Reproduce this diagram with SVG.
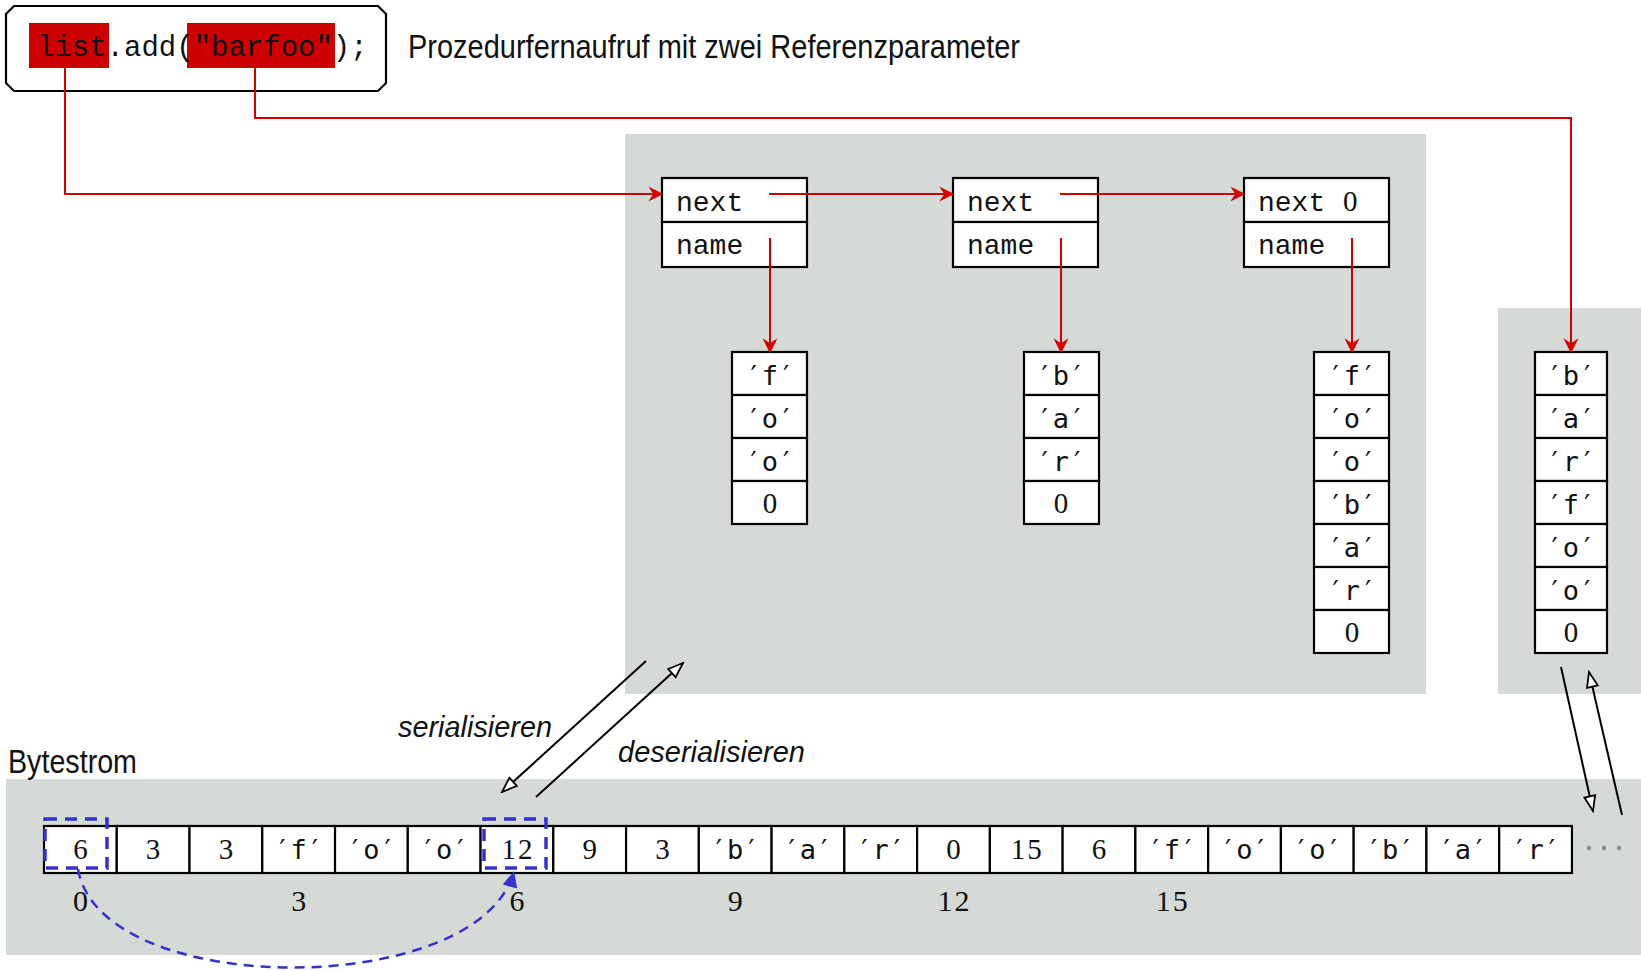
<svg xmlns="http://www.w3.org/2000/svg" width="1641" height="971" viewBox="0 0 1641 971">
  <style>
    .panel { fill: #d6dad6; }
    .cell { fill: #ffffff; stroke: #000000; stroke-width: 2.2; }
    .mono { font-family: "Liberation Mono", "DejaVu Sans Mono", monospace; font-size: 28px; fill: #111111; }
    .chr { font-family: "DejaVu Sans Mono", "Liberation Mono", monospace; font-size: 27px; fill: #111111; }
    .num { font-family: "Liberation Serif", "Times New Roman", serif; font-size: 29px; letter-spacing: 2px; fill: #111111; }
    .mid { text-anchor: middle; }
    .sans { font-family: "Liberation Sans", Arial, sans-serif; fill: #111111; }
    .ital { font-style: italic; }
    .ref { fill: none; stroke: #d40000; stroke-width: 2; marker-end: url(#redHead); }
    .flow { fill: none; stroke: #000000; stroke-width: 2; marker-end: url(#openHead); }
    .hl { fill: #cc0000; }
    .mark { fill: none; stroke: #3333cc; stroke-width: 3.5; stroke-dasharray: 12 8; }
  </style>
  <defs>
    <marker id="redHead" viewBox="-14 -8 16 16" refX="0" refY="0" markerWidth="16" markerHeight="16" markerUnits="userSpaceOnUse" orient="auto">
      <path d="M0,0 L-12,-6 L-8,0 L-12,6 Z" fill="#d40000" stroke="#d40000" stroke-width="1.2"/>
    </marker>
    <marker id="openHead" viewBox="-18 -8 20 16" refX="0" refY="0" markerWidth="20" markerHeight="16" markerUnits="userSpaceOnUse" orient="auto">
      <path d="M0,0 L-15,-5.5 L-15,5.5 Z" fill="#ffffff" stroke="#000000" stroke-width="1.8"/>
    </marker>
    <marker id="blueHead" viewBox="-18 -9 20 18" refX="0" refY="0" markerWidth="20" markerHeight="18" markerUnits="userSpaceOnUse" orient="auto">
      <path d="M0,0 L-16,-7.5 L-16,7.5 Z" fill="#3333cc"/>
    </marker>
  </defs>

  <rect width="1641" height="971" fill="#ffffff"/>

  <!-- background panels: heap on the left, copied string on the right, byte stream below -->
  <g id="panels">
    <rect class="panel" x="625" y="134" width="801" height="560"/>
    <rect class="panel" x="1498" y="308" width="143" height="386"/>
    <rect class="panel" x="6" y="779" width="1635" height="176"/>
  </g>

  <!-- the remote call expression -->
  <g id="call">
    <path d="M14,6 H378 L386,14 V83 L378,91 H14 L6,83 V14 Z" fill="#ffffff" stroke="#000000" stroke-width="2.2"/>
    <rect class="hl" x="29" y="23" width="80" height="45"/>
    <rect class="hl" x="187" y="23" width="148" height="45"/>
    <text class="mono" x="37" y="56" style="font-size:29px">list.add("barfoo");</text>
  </g>

  <g id="title">
    <text class="sans" x="408" y="58" style="font-size:33px" textLength="612" lengthAdjust="spacingAndGlyphs">Prozedurfernaufruf mit zwei Referenzparameter</text>
  </g>

  <!-- list elements -->
  <g id="node1">
    <rect class="cell" x="662" y="178" width="145" height="44"/>
    <rect class="cell" x="662" y="222" width="145" height="45"/>
    <text class="mono" x="676" y="211">next</text>
    <text class="mono" x="676" y="254">name</text>
  </g>
  <g id="node2">
    <rect class="cell" x="953" y="178" width="145" height="44"/>
    <rect class="cell" x="953" y="222" width="145" height="45"/>
    <text class="mono" x="967" y="211">next</text>
    <text class="mono" x="967" y="254">name</text>
  </g>
  <g id="node3">
    <rect class="cell" x="1244" y="178" width="145" height="44"/>
    <rect class="cell" x="1244" y="222" width="145" height="45"/>
    <text class="mono" x="1258" y="211">next</text>
    <text class="num" x="1343" y="211">0</text>
    <text class="mono" x="1258" y="254">name</text>
  </g>

  <!-- character arrays -->
  <g id="str1">
    <rect class="cell" x="732" y="352" width="75" height="43"/>
    <rect class="cell" x="732" y="395" width="75" height="43"/>
    <rect class="cell" x="732" y="438" width="75" height="43"/>
    <rect class="cell" x="732" y="481" width="75" height="43"/>
    <text class="chr mid" x="770" y="385">′f′</text>
    <text class="chr mid" x="770" y="428">′o′</text>
    <text class="chr mid" x="770" y="471">′o′</text>
    <text class="num mid" x="771" y="513">0</text>
  </g>
  <g id="str2">
    <rect class="cell" x="1024" y="352" width="75" height="43"/>
    <rect class="cell" x="1024" y="395" width="75" height="43"/>
    <rect class="cell" x="1024" y="438" width="75" height="43"/>
    <rect class="cell" x="1024" y="481" width="75" height="43"/>
    <text class="chr mid" x="1061" y="385">′b′</text>
    <text class="chr mid" x="1061" y="428">′a′</text>
    <text class="chr mid" x="1061" y="471">′r′</text>
    <text class="num mid" x="1062" y="513">0</text>
  </g>
  <g id="str3">
    <rect class="cell" x="1314" y="352" width="75" height="43"/>
    <rect class="cell" x="1314" y="395" width="75" height="43"/>
    <rect class="cell" x="1314" y="438" width="75" height="43"/>
    <rect class="cell" x="1314" y="481" width="75" height="43"/>
    <rect class="cell" x="1314" y="524" width="75" height="43"/>
    <rect class="cell" x="1314" y="567" width="75" height="43"/>
    <rect class="cell" x="1314" y="610" width="75" height="43"/>
    <text class="chr mid" x="1352" y="385">′f′</text>
    <text class="chr mid" x="1352" y="428">′o′</text>
    <text class="chr mid" x="1352" y="471">′o′</text>
    <text class="chr mid" x="1352" y="514">′b′</text>
    <text class="chr mid" x="1352" y="557">′a′</text>
    <text class="chr mid" x="1352" y="600">′r′</text>
    <text class="num mid" x="1353" y="642">0</text>
  </g>
  <g id="str4">
    <rect class="cell" x="1535" y="352" width="72" height="43"/>
    <rect class="cell" x="1535" y="395" width="72" height="43"/>
    <rect class="cell" x="1535" y="438" width="72" height="43"/>
    <rect class="cell" x="1535" y="481" width="72" height="43"/>
    <rect class="cell" x="1535" y="524" width="72" height="43"/>
    <rect class="cell" x="1535" y="567" width="72" height="43"/>
    <rect class="cell" x="1535" y="610" width="72" height="43"/>
    <text class="chr mid" x="1571" y="385">′b′</text>
    <text class="chr mid" x="1571" y="428">′a′</text>
    <text class="chr mid" x="1571" y="471">′r′</text>
    <text class="chr mid" x="1571" y="514">′f′</text>
    <text class="chr mid" x="1571" y="557">′o′</text>
    <text class="chr mid" x="1571" y="600">′o′</text>
    <text class="num mid" x="1572" y="642">0</text>
  </g>

  <!-- byte stream -->
  <g id="bytestream">
    <text class="sans" x="8" y="773" style="font-size:33px" textLength="129" lengthAdjust="spacingAndGlyphs">Bytestrom</text>
    <g id="bytes">
      <rect class="cell" x="44" y="826" width="72.76" height="47"/>
      <rect class="cell" x="116.76" y="826" width="72.76" height="47"/>
      <rect class="cell" x="189.52" y="826" width="72.76" height="47"/>
      <rect class="cell" x="262.28" y="826" width="72.76" height="47"/>
      <rect class="cell" x="335.04" y="826" width="72.76" height="47"/>
      <rect class="cell" x="407.8" y="826" width="72.76" height="47"/>
      <rect class="cell" x="480.56" y="826" width="72.76" height="47"/>
      <rect class="cell" x="553.32" y="826" width="72.76" height="47"/>
      <rect class="cell" x="626.08" y="826" width="72.76" height="47"/>
      <rect class="cell" x="698.84" y="826" width="72.76" height="47"/>
      <rect class="cell" x="771.6" y="826" width="72.76" height="47"/>
      <rect class="cell" x="844.36" y="826" width="72.76" height="47"/>
      <rect class="cell" x="917.12" y="826" width="72.76" height="47"/>
      <rect class="cell" x="989.88" y="826" width="72.76" height="47"/>
      <rect class="cell" x="1062.64" y="826" width="72.76" height="47"/>
      <rect class="cell" x="1135.4" y="826" width="72.76" height="47"/>
      <rect class="cell" x="1208.16" y="826" width="72.76" height="47"/>
      <rect class="cell" x="1280.92" y="826" width="72.76" height="47"/>
      <rect class="cell" x="1353.68" y="826" width="72.76" height="47"/>
      <rect class="cell" x="1426.44" y="826" width="72.76" height="47"/>
      <rect class="cell" x="1499.2" y="826" width="72.76" height="47"/>
    </g>
    <g class="num mid">
      <text x="81.4" y="859">6</text>
      <text x="154.1" y="859">3</text>
      <text x="226.9" y="859">3</text>
      <text x="517.9" y="859">12</text>
      <text x="590.7" y="859">9</text>
      <text x="663.5" y="859">3</text>
      <text x="954.5" y="859">0</text>
      <text x="1027.3" y="859">15</text>
      <text x="1100" y="859">6</text>
    </g>
    <g class="chr mid">
      <text x="298.7" y="859">′f′</text>
      <text x="371.4" y="859">′o′</text>
      <text x="444.2" y="859">′o′</text>
      <text x="735.2" y="859">′b′</text>
      <text x="808" y="859">′a′</text>
      <text x="880.7" y="859">′r′</text>
      <text x="1171.8" y="859">′f′</text>
      <text x="1244.5" y="859">′o′</text>
      <text x="1317.3" y="859">′o′</text>
      <text x="1390.1" y="859">′b′</text>
      <text x="1462.8" y="859">′a′</text>
      <text x="1535.6" y="859">′r′</text>
    </g>
    <g fill="#888888">
      <circle cx="1589" cy="848" r="2.2"/>
      <circle cx="1604" cy="848" r="2.2"/>
      <circle cx="1619" cy="848" r="2.2"/>
    </g>
    <g class="num mid" style="font-size:30px">
      <text x="81.4" y="911">0</text>
      <text x="299.7" y="911">3</text>
      <text x="517.9" y="911">6</text>
      <text x="736.2" y="911">9</text>
      <text x="954.5" y="911">12</text>
      <text x="1172.8" y="911">15</text>
    </g>
    <rect class="mark" x="45" y="819" width="62" height="49"/>
    <rect class="mark" x="484" y="819" width="62" height="49"/>
  </g>

  <g id="labels">
    <text class="sans ital" x="398" y="737" style="font-size:30px" textLength="154" lengthAdjust="spacingAndGlyphs">serialisieren</text>
    <text class="sans ital" x="618" y="762" style="font-size:30px" textLength="187" lengthAdjust="spacingAndGlyphs">deserialisieren</text>
  </g>

  <!-- connectors -->
  <g id="connectors">
    <path class="ref" d="M65,68 V194 H662"/>
    <path class="ref" d="M255,68 V118 H1571 V352"/>
    <path class="ref" d="M769,194 H953"/>
    <path class="ref" d="M1060,194 H1244"/>
    <path class="ref" d="M770,238 V352"/>
    <path class="ref" d="M1061,238 V352"/>
    <path class="ref" d="M1352,238 V352"/>
    <path class="flow" d="M646,661 L502,792"/>
    <path class="flow" d="M536,797 L683,663"/>
    <path class="flow" d="M1561,667 L1593,811"/>
    <path class="flow" d="M1622,815 L1589,672"/>
    <path d="M78,869 C100,1000 480,1000 514,871" fill="none" stroke="#3333cc" stroke-width="2.5" stroke-dasharray="10 7" marker-end="url(#blueHead)"/>
  </g>
</svg>
